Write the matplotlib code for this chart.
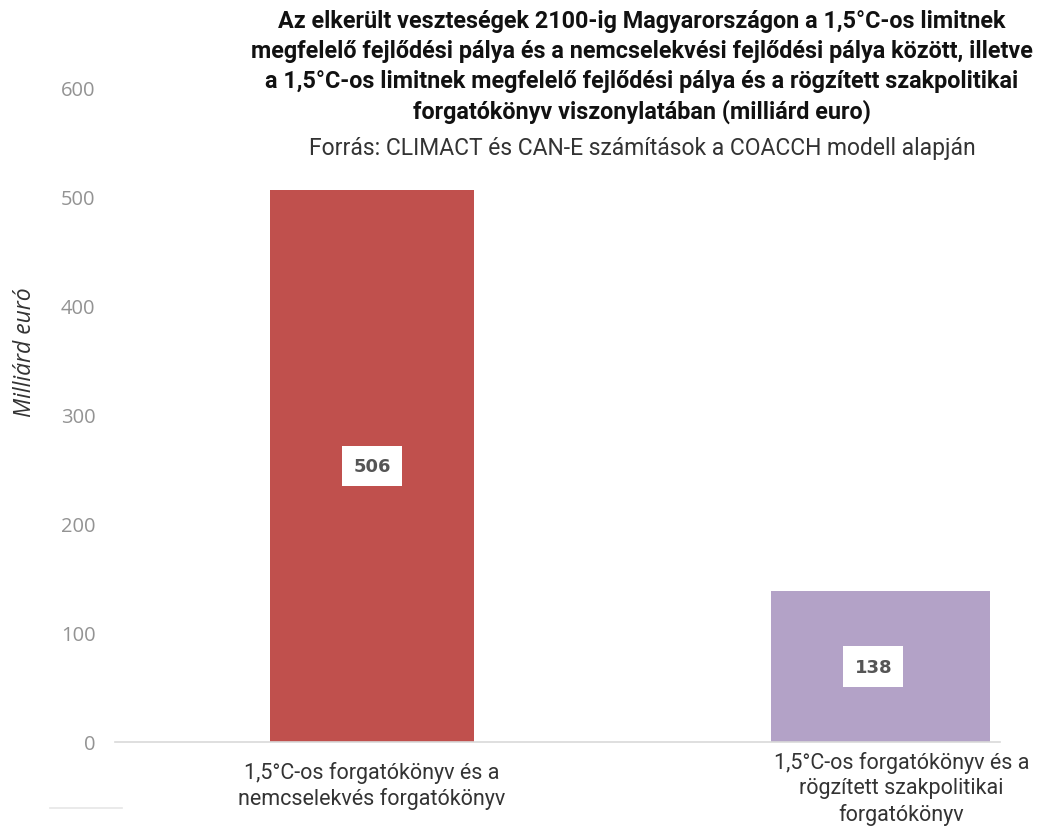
import matplotlib.pyplot as plt
from matplotlib.lines import Line2D

categories = ["1,5°C-os forgatókönyv és a\nnemcselekvés forgatókönyv",
              "1,5°C-os forgatókönyv és a\nrögzített szakpolitikai\nforgatókönyv"]
values = [506, 138]
colors = ["#C0504D", "#B3A2C7"]
yticks = [0, 100, 200, 300, 400, 500, 600]

cond = "Roboto"

fig = plt.figure(figsize=(10.47, 8.29), dpi=100)
ax = fig.add_axes([115 / 1047, 86 / 829, 885 / 1047, 655 / 829])

x = list(range(len(values)))
ax.bar(x, values, width=[0.40, 0.43], color=colors, zorder=2)
for xi, v in zip(x, values):
    ax.text(xi - (0.015 if xi else 0), v / 2, str(v), ha="center", va="center", fontsize=13,
            fontweight="bold", color="#555555", family="DejaVu Sans",
            bbox=dict(facecolor="white", edgecolor="none", pad=8))

ax.set_xlim(-0.505, 1.234)
ax.set_ylim(0, 600)
ax.set_yticks(yticks)
ax.set_yticklabels([str(t) for t in yticks], family="Open Sans", fontsize=14.5, color="#939393")
ax.tick_params(axis="y", length=0, pad=14)
ax.set_xticks([])
for s in ["top", "right", "left"]:
    ax.spines[s].set_visible(False)
ax.spines["bottom"].set_color("#d9d9d9")
ax.spines["bottom"].set_linewidth(1.2)

# category labels under the bars
ax.text(0, -17, categories[0], ha="center", va="top", fontsize=15.5, family=cond,
        color="#333333", linespacing=1.28)
ax.text(1.04, -8, categories[1], ha="center", va="top", fontsize=15.5, family=cond,
        color="#333333", linespacing=1.28)

fig.text(25 / 1047, 1 - 352 / 829, "Milliárd euró", rotation=90, ha="center", va="center",
         fontsize=16.5, style="italic", family="Open Sans", color="#333333")

title = ("Az elkerült veszteségek 2100-ig Magyarországon a 1,5°C-os limitnek\n"
         "megfelelő fejlődési pálya és a nemcselekvési fejlődési pálya között, illetve\n"
         "a 1,5°C-os limitnek megfelelő fejlődési pálya és a rögzített szakpolitikai\n"
         "forgatókönyv viszonylatában (milliárd euro)")
fig.text(642 / 1047, 1 - 10 / 829, title, ha="center", va="top", fontsize=16.8,
         fontweight="bold", family=cond, color="#111111", linespacing=1.38)
fig.text(642 / 1047, 1 - 148 / 829, "Forrás: CLIMACT és CAN-E számítások a COACCH modell alapján",
         ha="center", va="center", fontsize=16.5, family=cond, color="#333333")

fig.add_artist(Line2D([50 / 1047, 122 / 1047], [1 - 809 / 829, 1 - 809 / 829],
                      color="#e6e6e6", lw=1.2))

fig.savefig("out.png", dpi=100)
